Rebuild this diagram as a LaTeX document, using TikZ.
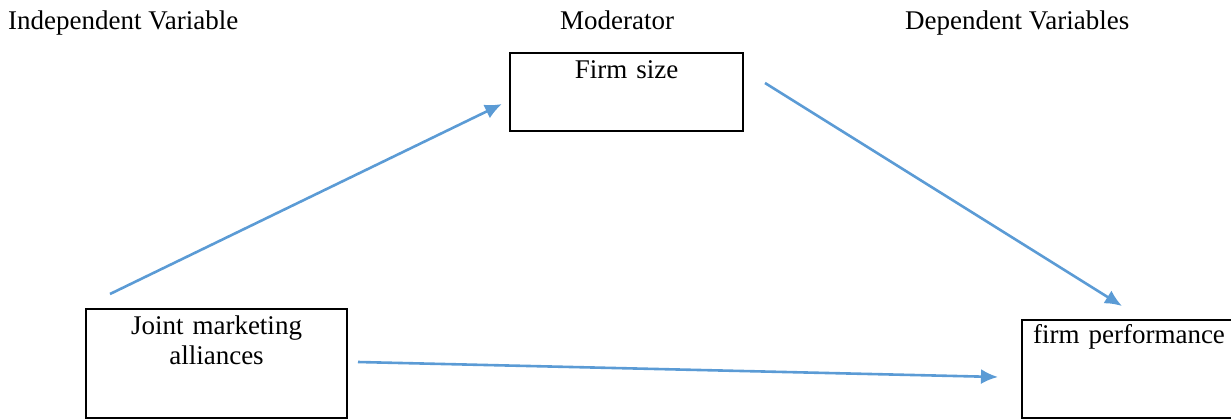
\documentclass[tikz,border=0pt]{standalone}
\usepackage{fontspec}
\setmainfont{Liberation Serif}
\usepackage{tikz}
\usetikzlibrary{
  arrows.meta,
  positioning
}
\definecolor{LinkBlue}{RGB}{91,155,213}
\definecolor{FrameBlack}{RGB}{0,0,0}
\tikzset{
  heading/.style={inner sep=0pt,font=\fontsize{27}{30}\selectfont},
  varbox/.style={draw=FrameBlack,line width=2pt,inner sep=0pt,align=center,font=\fontsize{27}{30}\selectfont},
  linkarrow/.style={-{Latex[length=17pt,width=15pt]},line width=2.6pt,draw=LinkBlue}
}
\begin{document}
\begin{tikzpicture}[x=1pt,y=-1pt]
\useasboundingbox (0,0) rectangle (1231,418);
% headings
\node[heading, anchor=base west] (indep) at (8,29) {Independent Variable};
\node[heading, anchor=base west] (moder) at (560,29) {Moderator};
\node[heading, anchor=base west] (dep) at (905,29) {Dependent Variables};
% boxes
\node[varbox, anchor=north west, text width=233pt, text height=25pt, text depth=53pt] (firmsize) at (509,52) {Firm size};
\node[varbox, anchor=north west, text width=261pt, text height=25pt, text depth=84pt] (jma) at (85,308) {Joint marketing\\alliances};
\node[varbox, anchor=north west, text width=214pt, text height=23pt, text depth=75pt] (perf) at (1021,319) {firm performance};
% arrows
\coordinate (jmaout) at (110,294);
\coordinate (sizein) at (502,104);
\coordinate (sizeout) at (765,83);
\coordinate (perfin) at (1122,306);
\coordinate (jmaright) at (358,362);
\coordinate (perfleft) at (998,377);
\draw[linkarrow] (jmaout) -- (sizein);
\draw[linkarrow] (sizeout) -- (perfin);
\draw[linkarrow] (jmaright) -- (perfleft);
\end{tikzpicture}
\end{document}
